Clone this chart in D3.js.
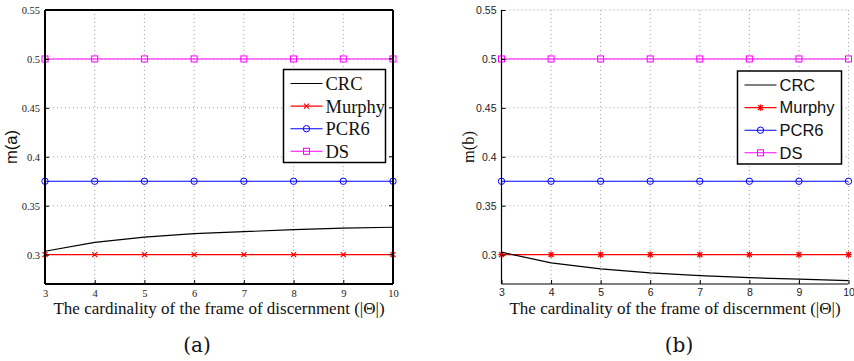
<!DOCTYPE html>
<html>
<head>
<meta charset="utf-8">
<script src="https://cdn.jsdelivr.net/npm/d3@7/dist/d3.min.js"></script>
<style>
  html, body { margin: 0; padding: 0; background: #fff; }
  svg { display: block; }
</style>
</head>
<body>
<svg id="chart" width="854" height="361"></svg>
<script>
// Cardinality of the frame of discernment
const cardinality = [3, 4, 5, 6, 7, 8, 9, 10];

// Panel (a): mass assigned to a
const crcA    = [0.3035, 0.3125, 0.318, 0.3215, 0.3235, 0.3255, 0.327, 0.328];
const murphyA = [0.3, 0.3, 0.3, 0.3, 0.3, 0.3, 0.3, 0.3];
const pcr6A   = [0.375, 0.375, 0.375, 0.375, 0.375, 0.375, 0.375, 0.375];
const dsA     = [0.5, 0.5, 0.5, 0.5, 0.5, 0.5, 0.5, 0.5];

// Panel (b): mass assigned to b
const crcB    = [0.3025, 0.2915, 0.2855, 0.2813, 0.2786, 0.2765, 0.2749, 0.2735];
const murphyB = [0.3, 0.3, 0.3, 0.3, 0.3, 0.3, 0.3, 0.3];
const pcr6B   = [0.375, 0.375, 0.375, 0.375, 0.375, 0.375, 0.375, 0.375];
const dsB     = [0.5, 0.5, 0.5, 0.5, 0.5, 0.5, 0.5, 0.5];

const seriesNames = ["CRC", "Murphy", "PCR6", "DS"];
const yTicks = [0.3, 0.35, 0.4, 0.45, 0.5, 0.55];
const yTickLabels = ["0.3", "0.35", "0.4", "0.45", "0.5", "0.55"];
const xLabel = "The cardinality of the frame of discernment (|\u0398|)";

const SERIF = "'Liberation Serif', 'DejaVu Serif', serif";
const SANS = "'Liberation Sans', Arial, sans-serif";

const svg = d3.select("#chart");

const styles = {
  CRC:    { color: "#000000", marker: "none" },
  Murphy: { color: "#ff0000", marker: "x" },
  PCR6:   { color: "#0000ff", marker: "circle" },
  DS:     { color: "#ff00ff", marker: "square" }
};

function drawMarker(g, type, x, y, color, murphyStar) {
  if (type === "circle") {
    g.append("circle").attr("cx", x).attr("cy", y).attr("r", 3.2)
      .attr("fill", "none").attr("stroke", color).attr("stroke-width", 1);
  } else if (type === "square") {
    g.append("rect").attr("x", x - 3).attr("y", y - 3).attr("width", 6).attr("height", 6)
      .attr("fill", "none").attr("stroke", color).attr("stroke-width", 1);
  } else if (type === "x") {
    const s = 2.5;
    const p = `M${x - s},${y - s}L${x + s},${y + s}M${x - s},${y + s}L${x + s},${y - s}`
      + (murphyStar ? `M${x},${y - 3.2}L${x},${y + 3.2}M${x - 3.2},${y}L${x + 3.2},${y}` : "");
    g.append("path").attr("d", p).attr("stroke", color).attr("stroke-width", murphyStar ? 1.3 : 1.2)
      .attr("fill", "none");
  }
}

function panel(cfg) {
  const { left, right, top, bottom, data, tickFont, tickSize, xTickPad, axisWidth, boxed,
          yLabel, yLabelFont, yLabelX, legend, legendFont, legendSize, caption, star } = cfg;

  const x = d3.scaleLinear().domain([3, 10]).range([left, right]);
  const y = d3.scaleLinear().domain([0.27, 0.55]).range([bottom, top]);
  const g = svg.append("g");

  // dotted grid
  const grid = g.append("g").attr("stroke", "#888").attr("stroke-width", 0.8)
    .attr("stroke-dasharray", "1,3");
  cardinality.forEach(v => {
    grid.append("line").attr("x1", x(v)).attr("x2", x(v)).attr("y1", top).attr("y2", bottom);
  });
  yTicks.forEach(v => {
    grid.append("line").attr("x1", left).attr("x2", right).attr("y1", y(v)).attr("y2", y(v));
  });

  // series lines and markers
  const line = d3.line().x((d, i) => x(cardinality[i])).y(d => y(d));
  const order = ["DS", "PCR6", "Murphy", "CRC"];
  order.forEach(name => {
    const vals = data[name];
    const st = styles[name];
    g.append("path").datum(vals).attr("d", line).attr("fill", "none")
      .attr("stroke", st.color).attr("stroke-width", name === "CRC" ? 1.2 : 1.1);
    if (st.marker !== "none") {
      vals.forEach((v, i) => drawMarker(g, st.marker, x(cardinality[i]), y(v), st.color, star));
    }
  });

  // axes
  const yAxis = d3.axisLeft(y).tickValues(yTicks).tickFormat((d, i) => yTickLabels[i])
    .tickSize(4).tickPadding(1);
  const xAxis = d3.axisBottom(x).tickValues(cardinality).tickFormat(d3.format("d"))
    .tickSize(4).tickPadding(xTickPad);

  const ya = g.append("g").attr("transform", `translate(${left},0)`).call(yAxis);
  ya.selectAll(".tick line").attr("x2", 4).attr("stroke", "#000");
  const xa = g.append("g").attr("transform", `translate(0,${bottom})`).call(xAxis);
  xa.selectAll(".tick line").attr("y2", -4).attr("stroke", "#000");
  [ya, xa].forEach(a => {
    a.select(".domain").remove();
    a.selectAll("text").attr("font-family", tickFont).attr("font-size", tickSize).attr("fill", "#222");
  });

  // axes lines
  g.append("line").attr("x1", left).attr("x2", left).attr("y1", top).attr("y2", bottom)
    .attr("stroke", "#000").attr("stroke-width", axisWidth);
  g.append("line").attr("x1", left).attr("x2", right).attr("y1", bottom).attr("y2", bottom)
    .attr("stroke", "#000").attr("stroke-width", axisWidth);
  if (boxed) {
    g.append("line").attr("x1", left).attr("x2", right).attr("y1", top).attr("y2", top)
      .attr("stroke", "#000").attr("stroke-width", axisWidth);
    g.append("line").attr("x1", right).attr("x2", right).attr("y1", top).attr("y2", bottom)
      .attr("stroke", "#000").attr("stroke-width", axisWidth);
    // right-side ticks
    yTicks.forEach(v => {
      g.append("line").attr("x1", right - 4).attr("x2", right).attr("y1", y(v)).attr("y2", y(v))
        .attr("stroke", "#000");
    });
  }

  // axis labels
  g.append("text").attr("x", (left + right) / 2).attr("y", bottom + 30)
    .attr("text-anchor", "middle").attr("font-family", SERIF).attr("font-size", 17)
    .attr("fill", "#111").text(xLabel);
  g.append("text").attr("transform", `translate(${yLabelX},${(top + bottom) / 2}) rotate(-90)`)
    .attr("text-anchor", "middle").attr("font-family", yLabelFont).attr("font-size", 16.5)
    .attr("fill", "#111").text(yLabel);

  // legend
  const lg = g.append("g");
  lg.append("rect").attr("x", legend.x).attr("y", legend.y).attr("width", legend.w)
    .attr("height", legend.h).attr("fill", "#fff").attr("stroke", "#000").attr("stroke-width", 1.5);
  seriesNames.forEach((name, i) => {
    const cy = legend.y + 14 + i * 22.6;
    const st = styles[name];
    lg.append("line").attr("x1", legend.x + 7).attr("x2", legend.x + 39).attr("y1", cy).attr("y2", cy)
      .attr("stroke", st.color).attr("stroke-width", 1.1);
    if (st.marker !== "none") drawMarker(lg, st.marker, legend.x + 23, cy, st.color, star);
    lg.append("text").attr("x", legend.x + 42).attr("y", cy).attr("dy", "0.35em")
      .attr("font-family", legendFont).attr("font-size", legendSize).attr("fill", "#111").text(name);
  });

  // caption
  g.append("text").attr("x", caption.x).attr("y", 352).attr("text-anchor", "middle")
    .attr("font-family", "'DejaVu Serif', serif").attr("font-size", 20).attr("fill", "#111")
    .text(caption.text);
}

panel({
  left: 45, right: 393, top: 10, bottom: 284,
  data: { CRC: crcA, Murphy: murphyA, PCR6: pcr6A, DS: dsA },
  tickFont: SERIF, tickSize: 10.5, xTickPad: 2, axisWidth: 2, boxed: true,
  yLabel: "m(a)", yLabelFont: SANS, yLabelX: 17,
  legend: { x: 283.5, y: 69.5, w: 102, h: 93 },
  legendFont: SERIF, legendSize: 18.5,
  caption: { x: 197, text: "(a)" }, star: false
});

panel({
  left: 501.5, right: 848.5, top: 10, bottom: 284,
  data: { CRC: crcB, Murphy: murphyB, PCR6: pcr6B, DS: dsB },
  tickFont: SANS, tickSize: 10.5, xTickPad: 1, axisWidth: 1.2, boxed: false,
  yLabel: "m(b)", yLabelFont: SERIF, yLabelX: 474,
  legend: { x: 737.5, y: 71, w: 104, h: 93 },
  legendFont: SANS, legendSize: 16.5,
  caption: { x: 679, text: "(b)" }, star: true
});
</script>
</body>
</html>
